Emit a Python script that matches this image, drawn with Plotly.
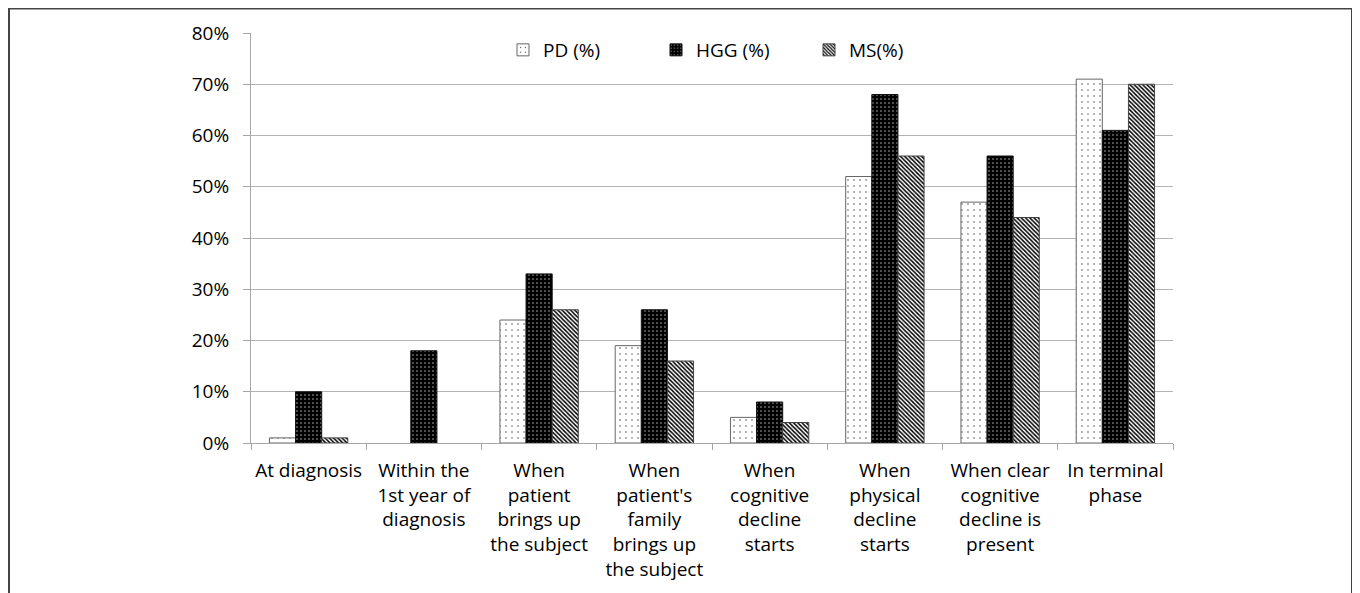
import plotly.graph_objects as go

categories = [
    "At diagnosis",
    "Within the<br>1st year of<br>diagnosis",
    "When<br>patient<br>brings up<br>the subject",
    "When<br>patient's<br>family<br>brings up<br>the subject",
    "When<br>cognitive<br>decline<br>starts",
    "When<br>physical<br>decline<br>starts",
    "When clear<br>cognitive<br>decline is<br>present",
    "In terminal<br>phase",
]
pd_vals = [1, 0, 24, 19, 5, 52, 47, 71]
hgg_vals = [10, 18, 33, 26, 8, 68, 56, 61]
ms_vals = [1, 0, 26, 16, 4, 56, 44, 70]
series_names = ["PD (%)", "HGG (%)", "MS(%)"]
y_ticks = [0, 10, 20, 30, 40, 50, 60, 70, 80]
y_tick_labels = [f"{v}%" for v in y_ticks]

FONT = "Open Sans"
FS = 19
fig = go.Figure()

styles = [
    dict(shape=".", fgcolor="#555555", bgcolor="white", size=6, solidity=0.06),
    dict(shape=".", fgcolor="#bbbbbb", bgcolor="black", size=4, solidity=0.12),
    dict(shape="\\", fgcolor="black", bgcolor="white", size=3, solidity=0.5),
]
line_cols = ["#666666", "#111111", "#444444"]
for name, vals, pat, lc in zip(series_names, [pd_vals, hgg_vals, ms_vals], styles, line_cols):
    fig.add_trace(go.Bar(
        x=categories, y=vals, name=name,
        marker=dict(color="white", pattern=dict(fillmode="replace", **pat),
                    line=dict(color=lc, width=[1 if v > 0 else 0 for v in vals])),
    ))

# page has an 8px body margin, so the figure is offset by 8px
OFF = 8
W, H = 1360 - OFF, 593 - OFF
L, R, T, B = 251 - OFF, 187, 33 - OFF, 150
pw, ph = W - L - R, H - T - B

def px_to_paper_x(px):
    return (px - OFF - L) / pw

def px_to_paper_y(py):
    return (H - B - (py - OFF)) / ph

fig.update_layout(
    width=W, height=H,
    margin=dict(l=L, r=R, t=T, b=B),
    paper_bgcolor="white", plot_bgcolor="white",
    barmode="group", bargap=0.32, bargroupgap=0,
    font=dict(family=FONT, size=FS, color="#000000"),
    showlegend=True,
    legend=dict(orientation="h", x=px_to_paper_x(503), xanchor="left",
                y=px_to_paper_y(50), yanchor="middle",
                bgcolor="rgba(0,0,0,0)", font=dict(size=FS),
                entrywidth=108, entrywidthmode="pixels",
                traceorder="normal"),
    xaxis=dict(showline=True, linecolor="#a6a6a6", linewidth=1,
               ticks="outside", ticklen=6, tickcolor="#a6a6a6",
               tickson="boundaries", showgrid=False, ticklabelstandoff=10,
               tickfont=dict(size=FS), tickangle=0),
    yaxis=dict(range=[0, 80], tickvals=y_ticks, ticktext=y_tick_labels,
               showline=True, linecolor="#a6a6a6", linewidth=1,
               ticks="outside", ticklen=7, tickcolor="#a6a6a6",
               showgrid=True, gridcolor="#b3b3b3", gridwidth=1,
               ticklabelstandoff=10,
               zeroline=False, tickfont=dict(size=FS)),
    shapes=[dict(type="rect", xref="paper", yref="paper",
                 x0=px_to_paper_x(9), x1=px_to_paper_x(1352),
                 y0=px_to_paper_y(640), y1=px_to_paper_y(8.5),
                 line=dict(color="#444444", width=2), layer="below")],
)

fig.write_html("out.html")
